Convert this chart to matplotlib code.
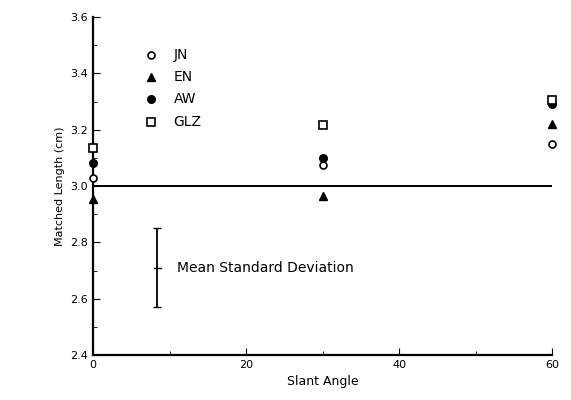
import matplotlib
matplotlib.use("Agg")
import matplotlib.pyplot as plt
from matplotlib.ticker import MultipleLocator

angles = [0, 30, 60]
jn = [3.03, 3.075, 3.15]
en = [2.955, 2.965, 3.22]
aw = [3.08, 3.10, 3.29]
glz = [3.135, 3.215, 3.305]
series_names = ["JN", "EN", "AW", "GLZ"]
legend_y = [3.465, 3.387, 3.31, 3.227]
sd_x = 8.4
sd_center = 2.71
sd_half = 0.14

fig = plt.figure(figsize=(5.71, 4.0), dpi=100)
ax = fig.add_axes([0.163, 0.1125, 0.804, 0.845])
ax.set_xlim(0, 60)
ax.set_ylim(2.4, 3.6)

styles = [
    dict(marker="o", mfc="white", mec="black", ms=5, mew=1.2),
    dict(marker="^", mfc="black", mec="black", ms=5.5, mew=1.0),
    dict(marker="o", mfc="black", mec="black", ms=5.5, mew=1.0),
    dict(marker="s", mfc="white", mec="black", ms=5.5, mew=1.2),
]
data = [jn, en, aw, glz]
for vals, st in zip(data, styles):
    ax.plot(angles, vals, linestyle="none", clip_on=False, zorder=3, **st)

# legend drawn as markers + text
for name, y, st in zip(series_names, legend_y, styles):
    ax.plot([7.6], [y], linestyle="none", **st)
    ax.text(10.5, y, name, va="center", ha="left", fontsize=10)

# reference line
ax.plot([0, 60], [3.0, 3.0], color="black", lw=1.4)

# mean SD error bar
ax.errorbar([sd_x], [sd_center], yerr=[sd_half], fmt="none", ecolor="black",
            elinewidth=1.3, capsize=3, capthick=1.0)
ax.plot([sd_x - 0.5, sd_x + 0.5], [sd_center, sd_center], color="black", lw=1.0)
ax.text(11.0, sd_center, "Mean Standard Deviation", va="center", ha="left", fontsize=10)

for s in ["top", "right"]:
    ax.spines[s].set_visible(False)
ax.spines["left"].set_linewidth(1.6)
ax.spines["bottom"].set_linewidth(1.6)

ax.xaxis.set_major_locator(MultipleLocator(20))
ax.xaxis.set_minor_locator(MultipleLocator(10))
ax.yaxis.set_major_locator(MultipleLocator(0.2))
ax.yaxis.set_minor_locator(MultipleLocator(0.1))
ax.tick_params(which="both", direction="in", labelsize=8)
ax.tick_params(which="major", length=5)
ax.tick_params(which="minor", length=3)
ax.set_yticklabels([f"{v:.1f}" for v in ax.get_yticks()])

ax.set_xlabel("Slant Angle", fontsize=9)
ax.set_ylabel("Matched Length (cm)", fontsize=8)

fig.savefig("out.png", dpi=100)
